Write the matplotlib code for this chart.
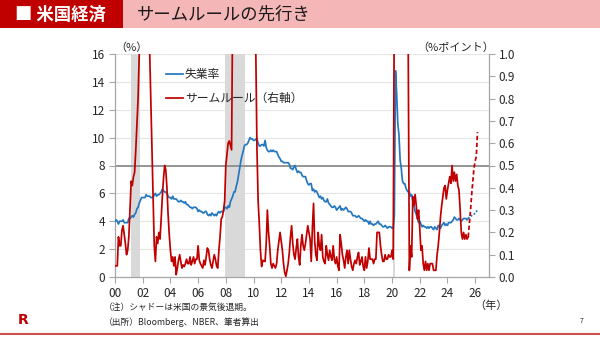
import numpy as np
import matplotlib
matplotlib.use("Agg")
import matplotlib.pyplot as plt
from matplotlib.patches import Rectangle
from matplotlib.lines import Line2D

plt.rcParams['font.family'] = ['Noto Sans CJK JP', 'DejaVu Sans']

# US unemployment rate (%), monthly, Jan 2000 - Jul 2025
unemployment = [
    4.0, 4.1, 4.0, 3.8, 4.0, 4.0, 4.0, 4.1, 3.9, 3.9, 3.9, 3.9,   # 2000
    4.2, 4.2, 4.3, 4.4, 4.3, 4.5, 4.6, 4.9, 5.0, 5.3, 5.5, 5.7,   # 2001
    5.7, 5.7, 5.7, 5.9, 5.8, 5.8, 5.8, 5.7, 5.7, 5.7, 5.9, 6.0,   # 2002
    5.8, 5.9, 5.9, 6.0, 6.1, 6.3, 6.2, 6.1, 6.1, 6.0, 5.8, 5.7,   # 2003
    5.7, 5.6, 5.8, 5.6, 5.6, 5.6, 5.5, 5.4, 5.4, 5.5, 5.4, 5.4,   # 2004
    5.3, 5.4, 5.2, 5.2, 5.1, 5.0, 5.0, 4.9, 5.0, 5.0, 5.0, 4.9,   # 2005
    4.7, 4.8, 4.7, 4.7, 4.6, 4.6, 4.7, 4.7, 4.5, 4.4, 4.5, 4.4,   # 2006
    4.6, 4.5, 4.4, 4.5, 4.4, 4.6, 4.7, 4.6, 4.7, 4.7, 4.7, 5.0,   # 2007
    5.0, 4.9, 5.1, 5.0, 5.4, 5.6, 5.8, 6.1, 6.1, 6.5, 6.8, 7.3,   # 2008
    7.8, 8.3, 8.7, 9.0, 9.4, 9.5, 9.5, 9.6, 9.8, 10.0, 9.9, 9.9,  # 2009
    9.8, 9.8, 9.9, 9.9, 9.6, 9.4, 9.4, 9.5, 9.5, 9.4, 9.8, 9.3,   # 2010
    9.1, 9.0, 9.0, 9.1, 9.0, 9.1, 9.0, 9.0, 9.0, 8.8, 8.6, 8.5,   # 2011
    8.3, 8.3, 8.2, 8.2, 8.2, 8.2, 8.2, 8.1, 7.8, 7.8, 7.7, 7.9,   # 2012
    8.0, 7.7, 7.5, 7.6, 7.5, 7.5, 7.3, 7.2, 7.2, 7.2, 6.9, 6.7,   # 2013
    6.6, 6.7, 6.7, 6.2, 6.3, 6.1, 6.2, 6.1, 5.9, 5.7, 5.8, 5.6,   # 2014
    5.7, 5.5, 5.4, 5.4, 5.6, 5.3, 5.2, 5.1, 5.0, 5.0, 5.1, 5.0,   # 2015
    4.8, 4.9, 5.0, 5.1, 4.8, 4.9, 4.8, 4.9, 5.0, 4.9, 4.7, 4.7,   # 2016
    4.7, 4.6, 4.4, 4.4, 4.4, 4.3, 4.3, 4.4, 4.3, 4.2, 4.2, 4.1,   # 2017
    4.0, 4.1, 4.0, 4.0, 3.8, 4.0, 3.8, 3.8, 3.7, 3.8, 3.8, 3.9,   # 2018
    4.0, 3.8, 3.8, 3.7, 3.6, 3.6, 3.7, 3.6, 3.5, 3.6, 3.6, 3.6,   # 2019
    3.5, 3.5, 4.4, 14.8, 13.2, 11.0, 10.2, 8.4, 7.8, 6.9, 6.7, 6.7,  # 2020
    6.4, 6.2, 6.1, 6.1, 5.8, 5.9, 5.4, 5.1, 4.7, 4.5, 4.2, 3.9,   # 2021
    4.0, 3.8, 3.6, 3.7, 3.6, 3.6, 3.5, 3.6, 3.5, 3.6, 3.6, 3.5,   # 2022
    3.4, 3.6, 3.5, 3.4, 3.7, 3.6, 3.5, 3.7, 3.8, 3.9, 3.7, 3.8,   # 2023
    3.7, 3.9, 3.9, 3.9, 4.0, 4.1, 4.3, 4.2, 4.1, 4.1, 4.2, 4.1,   # 2024
    4.0, 4.1, 4.2, 4.2, 4.2, 4.1, 4.2,                            # 2025
]

# Sahm rule indicator (%pt), monthly, Jan 2000 - Jul 2025
sahm_rule = [
    0.05, 0.05, 0.05, 0.18, 0.14, 0.14, 0.21, 0.23, 0.19, 0.15, 0.10, 0.12,  # 2000
    0.18, 0.30, 0.43, 0.41, 0.45, 0.47, 0.57, 0.68, 0.80, 1.00, 1.15, 1.30,  # 2001
    1.40, 1.40, 1.35, 1.30, 1.20, 1.10, 1.02, 0.80, 0.57, 0.34, 0.14, 0.07,  # 2002
    0.18, 0.15, 0.20, 0.17, 0.26, 0.36, 0.44, 0.50, 0.48, 0.40, 0.28, 0.19,  # 2003
    0.12, 0.07, 0.09, 0.05, 0.09, 0.01, 0.04, 0.075, 0.10, 0.07, 0.04, 0.054,  # 2004
    0.047, 0.06, 0.08, 0.06, 0.06, 0.09, 0.054, 0.07, 0.09, 0.06, 0.08, 0.08,  # 2005
    0.14, 0.075, 0.06, 0.05, 0.04, 0.075, 0.054, 0.09, 0.13, 0.12, 0.08, 0.054,  # 2006
    0.04, 0.07, 0.10, 0.08, 0.05, 0.04, 0.12, 0.18, 0.26, 0.27, 0.30, 0.34,  # 2007
    0.50, 0.55, 0.60, 0.61, 0.59, 0.57, 1.25, 1.50, 1.80, 2.10, 2.50, 2.90,  # 2008
    3.20, 3.60, 4.00, 4.30, 4.50, 4.60, 4.60, 4.50, 4.50, 4.40, 4.20, 3.90,  # 2009
    3.00, 2.00, 1.00, 0.57, 0.34, 0.24, 0.12, 0.047, 0.075, 0.07, 0.07, 0.15,  # 2010
    0.30, 0.20, 0.14, 0.06, 0.04, 0.06, 0.05, 0.04, 0.06, 0.12, 0.16, 0.20,  # 2011
    0.16, 0.12, 0.06, 0.02, 0.003, 0.03, 0.06, 0.11, 0.18, 0.23, 0.15, 0.10,  # 2012
    0.08, 0.13, 0.17, 0.09, 0.054, 0.14, 0.19, 0.14, 0.12, 0.15, 0.19, 0.23,  # 2013
    0.20, 0.17, 0.07, 0.22, 0.33, 0.16, 0.10, 0.075, 0.20, 0.14, 0.12, 0.19,  # 2014
    0.09, 0.07, 0.06, 0.14, 0.10, 0.075, 0.12, 0.09, 0.075, 0.14, 0.08, 0.06,  # 2015
    0.09, 0.05, 0.03, 0.19, 0.15, 0.10, 0.075, 0.04, 0.09, 0.12, 0.06, 0.12,  # 2016
    0.08, 0.047, 0.03, 0.06, 0.075, 0.06, 0.09, 0.11, 0.054, 0.07, 0.09, 0.047,  # 2017
    0.03, 0.09, 0.04, 0.07, 0.13, 0.08, 0.08, 0.08, 0.06, 0.08, 0.08, 0.20,  # 2018
    0.20, 0.20, 0.14, 0.10, 0.07, 0.07, 0.10, 0.08, 0.08, 0.10, 0.09, 0.09,  # 2019
    0.12, 0.08, 1.30, 3.70, 5.50, 6.50, 6.80, 6.50, 5.50, 4.50, 3.50, 2.60,  # 2020
    2.00, 1.60, 1.05, 0.03, 0.14, 0.09, 0.36, 0.32, 0.37, 0.32, 0.26, 0.30,  # 2021
    0.22, 0.12, 0.14, 0.06, 0.03, 0.07, 0.03, 0.06, 0.03, 0.06, 0.06, 0.06,  # 2022
    0.03, 0.03, 0.03, 0.10, 0.14, 0.20, 0.27, 0.32, 0.36, 0.40, 0.41, 0.35,  # 2023
    0.39, 0.42, 0.45, 0.42, 0.50, 0.43, 0.47, 0.43, 0.46, 0.41, 0.39, 0.30,  # 2024
    0.20, 0.17, 0.20, 0.17, 0.19, 0.17, 0.18,                                # 2025
]

# Outlook, Jul 2025 - Mar 2026
unemployment_outlook = [4.2, 4.3, 4.35, 4.4, 4.45, 4.5, 4.6, 4.7, 4.8]
sahm_outlook = [0.18, 0.24, 0.30, 0.37, 0.43, 0.49, 0.52, 0.54, 0.65]

# NBER recessions (start, end) as year-month
recessions = [((2001, 3), (2001, 11)), ((2007, 12), (2009, 6)), ((2020, 2), (2020, 4))]

year_ticks = list(range(0, 27, 2))
year_labels = [f"{y:02d}" for y in year_ticks]

BASE_YEAR = 2000


def to_x(year, month):
    return (year - BASE_YEAR) + (month - 1) / 12.0


t_hist = np.arange(len(unemployment)) / 12.0
t_out = t_hist[-1] + np.arange(len(unemployment_outlook)) / 12.0

BLUE = '#2478C0'
RED = '#C00000'
SPINE = '#A6A6A6'
TEXT = '#262626'

W, H = 600, 337
fig = plt.figure(figsize=(W / 100, H / 100), dpi=100)

# header band
fig.add_artist(Rectangle((0, 1 - 27.5 / H), 1, 27.5 / H, transform=fig.transFigure,
                         color='#F4B6B7', lw=0, zorder=0))
fig.add_artist(Rectangle((0, 1 - 27.5 / H), 123 / W, 27.5 / H, transform=fig.transFigure,
                         color='#C00000', lw=0, zorder=1))
fig.text(15 / W, 1 - 14.5 / H, '■ 米国経済', color='white', fontsize=12.5,
         fontweight='bold', va='center', ha='left')
fig.text(137 / W, 1 - 14.5 / H, 'サームルールの先行き', color='#1A1A1A', fontsize=12.5,
         va='center', ha='left')

# plot area
ax = fig.add_axes([115 / W, (H - 277) / H, 374 / W, 223 / H])
ax.set_xlim(0, 27)
ax.set_ylim(0, 16)

for (y0, m0), (y1, m1) in recessions:
    ax.axvspan(to_x(y0, m0), to_x(y1, m1), color='#D9D9D9', lw=0, zorder=1)
for y in range(2, 17, 2):
    if y != 8:
        ax.axhline(y, color='#E4E4E4', lw=0.8, zorder=0.5)
ax.axhline(8, color='#8C8C8C', lw=1.3, zorder=2)

l_blue, = ax.plot(t_hist, unemployment, color=BLUE, lw=1.25, zorder=3)
ax.plot(t_out, unemployment_outlook, color=BLUE, lw=1.25, ls=(0, (1, 1)), zorder=3)

ax.set_yticks(range(0, 17, 2))
ax.set_xticks(year_ticks)
ax.set_xticklabels(year_labels)
ax.tick_params(axis='both', direction='out', length=4, color=SPINE, labelsize=8.5,
               labelcolor=TEXT, width=0.8)
ax.tick_params(axis='x', pad=3)
ax.tick_params(axis='y', pad=3)
for s in ['top', 'right']:
    ax.spines[s].set_visible(False)
for s in ['left', 'bottom']:
    ax.spines[s].set_color(SPINE)
    ax.spines[s].set_linewidth(0.9)

ax2 = ax.twinx()
ax2.set_ylim(0, 1.0)
l_red, = ax2.plot(t_hist, sahm_rule, color=RED, lw=1.25, zorder=4)
ax2.plot(t_out, sahm_outlook, color=RED, lw=1.25, ls=(0, (2.5, 1.5)), zorder=4)
ax2.set_yticks(np.round(np.arange(0, 1.01, 0.1), 1))
ax2.set_yticklabels([f"{v:.1f}" for v in np.arange(0, 1.01, 0.1)])
ax2.tick_params(axis='y', direction='out', length=4, color=SPINE, labelsize=8.5,
                labelcolor=TEXT, width=0.8, pad=3)
for s in ['top', 'left', 'bottom']:
    ax2.spines[s].set_visible(False)
ax2.spines['right'].set_color(SPINE)
ax2.spines['right'].set_linewidth(0.9)

fig.legend([l_blue, l_red], ['失業率', 'サームルール（右軸）'], loc='upper left',
           bbox_to_anchor=(166 / W, 1 - 68 / H), frameon=False, fontsize=8.5,
           handlelength=1.4, handletextpad=0.2, labelspacing=0.95, borderpad=0,
           borderaxespad=0, labelcolor=TEXT)

# axis unit labels
fig.text(131 / W, 1 - 48 / H, '（%）', fontsize=8, ha='center', va='center', color=TEXT)
fig.text(456 / W, 1 - 48 / H, '（%ポイント）', fontsize=8, ha='center', va='center', color=TEXT)
fig.text(491 / W, 1 - 306 / H, '（年）', fontsize=8, ha='center', va='center', color=TEXT)

# notes
fig.text(104 / W, 1 - 307 / H, '（注）シャドーは米国の景気後退期。', fontsize=6.3,
         ha='left', va='center', color=TEXT)
fig.text(104 / W, 1 - 322.5 / H, '（出所）Bloomberg、NBER、筆者算出', fontsize=6.3,
         ha='left', va='center', color=TEXT)

# footer
fig.add_artist(Line2D([0, 1], [1 - 334 / H, 1 - 334 / H], transform=fig.transFigure,
                      color='#C9514F', lw=1.5))
fig.text(23 / W, 1 - 320 / H, 'R', fontsize=10, fontweight='bold', color='#C00000',
         ha='center', va='center', family=['DejaVu Sans'])
fig.text(582 / W, 1 - 321 / H, '7', fontsize=5, ha='center', va='center', color=TEXT)

fig.savefig('out.png', dpi=100)
